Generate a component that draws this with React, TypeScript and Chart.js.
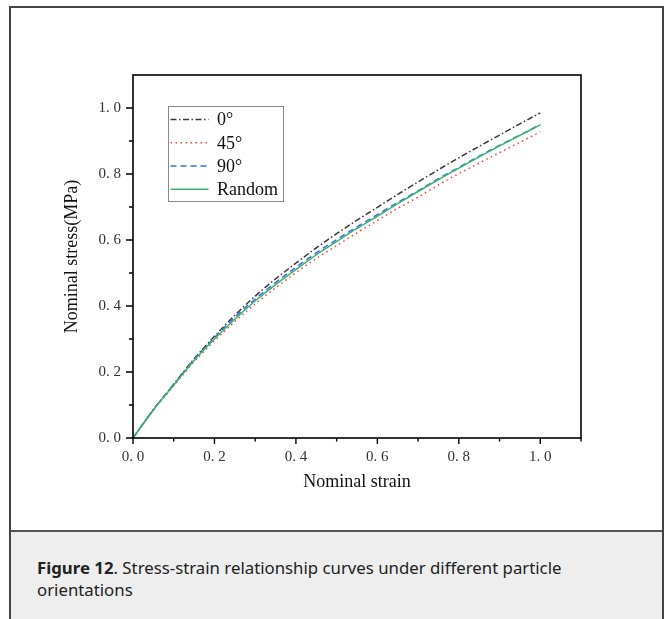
import React, { useEffect, useRef } from 'react';
import { Chart, registerables } from 'chart.js';

Chart.register(...registerables);

// ---- data ----
const STRAIN = [0, 0.05, 0.1, 0.15, 0.2, 0.25, 0.3, 0.35, 0.4, 0.45, 0.5, 0.55, 0.6, 0.65, 0.7, 0.75, 0.8, 0.85, 0.9, 0.95, 1.0];
const STRESS_0 = [0, 0.086, 0.163, 0.24, 0.308, 0.372, 0.43, 0.482, 0.53, 0.576, 0.619, 0.66, 0.699, 0.738, 0.776, 0.813, 0.849, 0.884, 0.918, 0.952, 0.985];
const STRESS_45 = [0, 0.084, 0.158, 0.231, 0.294, 0.353, 0.406, 0.455, 0.501, 0.544, 0.583, 0.622, 0.659, 0.696, 0.73, 0.767, 0.801, 0.833, 0.865, 0.896, 0.928];
const STRESS_90 = [0, 0.086, 0.162, 0.238, 0.304, 0.366, 0.421, 0.471, 0.517, 0.561, 0.601, 0.64, 0.677, 0.714, 0.749, 0.786, 0.82, 0.854, 0.887, 0.918, 0.95];
const STRESS_RANDOM = [0, 0.085, 0.16, 0.235, 0.3, 0.36, 0.415, 0.465, 0.51, 0.555, 0.595, 0.635, 0.672, 0.71, 0.747, 0.783, 0.818, 0.852, 0.885, 0.917, 0.949];

const SERIES_LABELS = ['0°', '45°', '90°', 'Random'];

const X_TICKS = [0, 0.2, 0.4, 0.6, 0.8, 1.0];
const X_TICK_LABELS = ['0. 0', '0. 2', '0. 4', '0. 6', '0. 8', '1. 0'];
const X_MINOR = [0.1, 0.3, 0.5, 0.7, 0.9, 1.1];
const Y_TICKS = [0, 0.2, 0.4, 0.6, 0.8, 1.0];
const Y_TICK_LABELS = ['0. 0', '0. 2', '0. 4', '0. 6', '0. 8', '1. 0'];
const Y_MINOR = [0.1, 0.3, 0.5, 0.7, 0.9];

const X_TITLE = 'Nominal strain';
const Y_TITLE = 'Nominal stress(MPa)';

const toPoints = (ys: number[]) => STRAIN.map((x, i) => ({ x, y: ys[i] }));

const framePlugin = {
  id: 'framePlugin',
  afterDatasetsDraw(chart: any) {
    const { ctx, chartArea: a, scales } = chart;
    const xs = scales.x;
    const ys = scales.y;
    ctx.save();
    // plot box
    ctx.strokeStyle = '#000';
    ctx.lineWidth = 1.6;
    ctx.setLineDash([]);
    ctx.strokeRect(a.left, a.top, a.right - a.left, a.bottom - a.top);
    // ticks
    ctx.lineWidth = 1.4;
    ctx.beginPath();
    X_TICKS.forEach((v) => {
      const p = xs.getPixelForValue(v);
      ctx.moveTo(p, a.bottom);
      ctx.lineTo(p, a.bottom + 6);
    });
    X_MINOR.forEach((v) => {
      const p = xs.getPixelForValue(v);
      ctx.moveTo(p, a.bottom);
      ctx.lineTo(p, a.bottom + 3.5);
    });
    Y_TICKS.forEach((v) => {
      const p = ys.getPixelForValue(v);
      ctx.moveTo(a.left, p);
      ctx.lineTo(a.left - 7, p);
    });
    Y_MINOR.forEach((v) => {
      const p = ys.getPixelForValue(v);
      ctx.moveTo(a.left, p);
      ctx.lineTo(a.left - 4, p);
    });
    ctx.stroke();

    // legend
    const bx = a.left + 35;
    const by = a.top + 31;
    const bw = 115;
    const bh = 95;
    ctx.fillStyle = '#fff';
    ctx.fillRect(bx, by, bw, bh);
    ctx.strokeStyle = '#8a8a8a';
    ctx.lineWidth = 1;
    ctx.strokeRect(bx + 0.5, by + 0.5, bw, bh);
    ctx.font = '18px "Liberation Serif", "Times New Roman", serif';
    ctx.textBaseline = 'middle';
    ctx.textAlign = 'left';
    chart.data.datasets.forEach((ds: any, i: number) => {
      const ry = by + 13.6 + i * 23.2;
      ctx.beginPath();
      ctx.strokeStyle = ds.borderColor;
      ctx.lineWidth = ds.borderWidth;
      ctx.setLineDash(ds.borderDash || []);
      ctx.moveTo(bx + 2.5, ry);
      ctx.lineTo(bx + 40.5, ry);
      ctx.stroke();
      ctx.setLineDash([]);
      ctx.fillStyle = '#111';
      ctx.fillText(ds.label, bx + 49, ry + 1);
    });
    ctx.restore();
  },
};

export default function App() {
  const ref = useRef<HTMLCanvasElement>(null);

  useEffect(() => {
    const serif = '"Liberation Serif", "Times New Roman", serif';
    const chart = new Chart(ref.current as HTMLCanvasElement, {
      type: 'line',
      data: {
        datasets: [
          {
            label: SERIES_LABELS[0],
            data: toPoints(STRESS_0),
            borderColor: '#3a3a3a',
            borderWidth: 1.5,
            borderDash: [6, 2.5, 1.5, 2.5],
            order: 3,
          },
          {
            label: SERIES_LABELS[1],
            data: toPoints(STRESS_45),
            borderColor: '#ff3b3b',
            borderWidth: 1.5,
            borderDash: [1.5, 3.5],
            order: 2,
          },
          {
            label: SERIES_LABELS[2],
            data: toPoints(STRESS_90),
            borderColor: '#2f72e0',
            borderWidth: 1.5,
            borderDash: [6, 4],
            order: 1,
          },
          {
            label: SERIES_LABELS[3],
            data: toPoints(STRESS_RANDOM),
            borderColor: '#3cb371',
            borderWidth: 1.5,
            order: 0,
          },
        ] as any,
      },
      options: {
        responsive: false,
        animation: false,
        layout: { padding: { left: 0, top: 67, right: 81, bottom: 0 } },
        plugins: { legend: { display: false }, tooltip: { enabled: false } },
        elements: {
          point: { radius: 0 },
          line: { cubicInterpolationMode: 'monotone', fill: false },
        },
        scales: {
          x: {
            type: 'linear',
            min: 0,
            max: 1.1,
            grid: { display: false, drawTicks: false },
            border: { display: false },
            afterBuildTicks: (s: any) => {
              s.ticks = X_TICKS.map((v) => ({ value: v }));
            },
            afterFit: (s: any) => {
              s.height = 92;
            },
            ticks: {
              callback: (_v: any, i: number) => X_TICK_LABELS[i],
              font: { family: serif, size: 15 },
              color: '#333',
              padding: 10,
              maxRotation: 0,
              autoSkip: false,
            },
            title: {
              display: true,
              text: X_TITLE,
              font: { family: serif, size: 18 },
              color: '#111',
              padding: { top: 0, bottom: 37 },
            },
          },
          y: {
            type: 'linear',
            min: 0,
            max: 1.1,
            grid: { display: false, drawTicks: false },
            border: { display: false },
            afterBuildTicks: (s: any) => {
              s.ticks = Y_TICKS.map((v) => ({ value: v }));
            },
            afterFit: (s: any) => {
              s.width = 122;
            },
            ticks: {
              callback: (_v: any, i: number) => Y_TICK_LABELS[i],
              font: { family: serif, size: 15 },
              color: '#333',
              padding: 12,
              autoSkip: false,
            },
            title: {
              display: true,
              text: Y_TITLE,
              font: { family: serif, size: 18 },
              color: '#111',
              padding: { top: 50, bottom: 0 },
            },
          },
        },
      } as any,
      plugins: [framePlugin],
    });
    return () => chart.destroy();
  }, []);

  return (
    <div
      style={{
        position: 'absolute',
        left: 9,
        top: 6,
        width: 655,
        height: 613,
        boxSizing: 'border-box',
        borderTop: '2px solid #444',
        borderLeft: '2px solid #444',
        borderRight: '2px solid #444',
        background: '#fff',
        overflow: 'hidden',
      }}
    >
      <div style={{ position: 'relative', width: 651, height: 522 }}>
        <canvas ref={ref} width={651} height={522} style={{ display: 'block', width: 651, height: 522 }} />
      </div>
      <div
        style={{
          borderTop: '2px solid #555',
          background: '#eeeeee',
          height: 200,
          boxSizing: 'border-box',
          paddingLeft: 26,
          paddingTop: 25,
          fontFamily: '"Noto Sans", "Open Sans", sans-serif',
          fontSize: 16.8,
          lineHeight: '21.5px',
          color: '#222',
          whiteSpace: 'nowrap',
        }}
      >
        <b>Figure 12</b>. Stress-strain relationship curves under different particle
        <br />
        orientations
      </div>
    </div>
  );
}
